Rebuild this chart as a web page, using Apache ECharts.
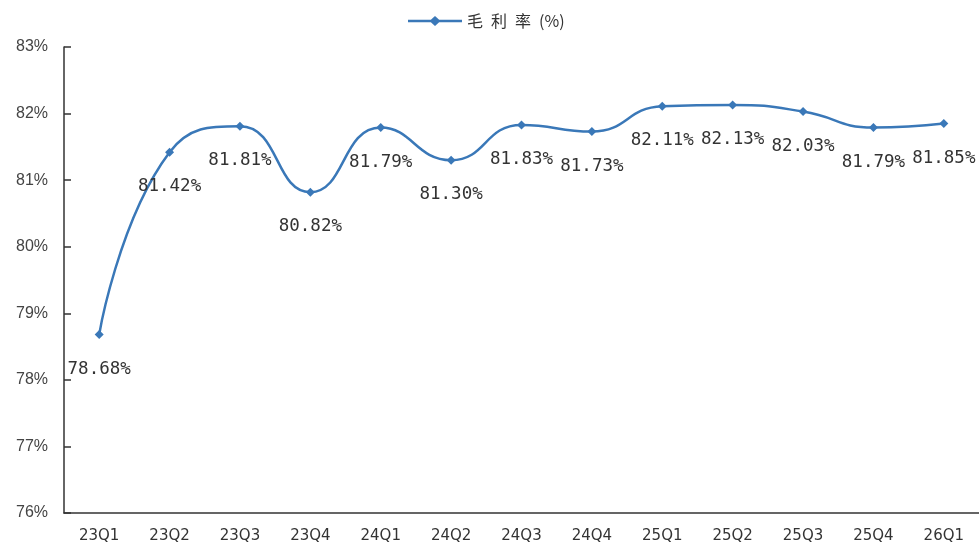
<!DOCTYPE html>
<html>
<head>
<meta charset="utf-8">
<script src="https://cdn.jsdelivr.net/npm/echarts@6/dist/echarts.min.js"></script>
<style>
  html, body { margin: 0; padding: 0; background: #fff; }
  #chart { width: 979px; height: 549px; }
</style>
</head>
<body>
<div id="chart"></div>
<script>
// Quarterly gross margin
const quarters = ['23Q1','23Q2','23Q3','23Q4','24Q1','24Q2','24Q3','24Q4','25Q1','25Q2','25Q3','25Q4','26Q1'];
const grossMargin = [78.68, 81.42, 81.81, 80.82, 81.79, 81.30, 81.83, 81.73, 82.11, 82.13, 82.03, 81.79, 81.85];
const seriesName = '毛利率（%）';

// widen CJK characters a little and use compact parentheses in the legend
const legendText = name => name
  .replace(/[（(]/g, '\u2002(').replace(/[）)]/g, ')')
  .replace(/([\u4e00-\u9fff])(?=[\u4e00-\u9fff])/g, '$1\u2002');

const chart = echarts.init(document.getElementById('chart'));
chart.setOption({
  animation: false,
  backgroundColor: '#fff',
  legend: {
    top: 8,
    left: 403,
    itemWidth: 54,
    itemHeight: 11,
    itemGap: 8,
    formatter: legendText,
    textStyle: { fontFamily: '"Noto Sans CJK SC", sans-serif', fontSize: 16, color: '#333' },
    data: [{ name: seriesName, icon: 'path://M0,4.2 L54,4.2 L54,6.8 L0,6.8 Z M21.5,5.5 L27,0.5 L32.5,5.5 L27,10.5 Z' }]
  },
  grid: { left: 64, right: -2, top: 47, bottom: 36, containLabel: false },
  xAxis: {
    type: 'category',
    data: quarters,
    boundaryGap: true,
    axisLine: { lineStyle: { color: '#333', width: 1.5 } },
    axisTick: { inside: true, length: 7, alignWithLabel: false, lineStyle: { color: '#333', width: 1.5 } },
    axisLabel: { margin: 16, fontFamily: '"DejaVu Sans", sans-serif', fontSize: 15, color: '#333' }
  },
  yAxis: {
    type: 'value',
    min: 76,
    max: 83,
    interval: 1,
    splitLine: { show: false },
    axisLine: { show: true, lineStyle: { color: '#333', width: 1.5 } },
    axisTick: { show: true, inside: true, length: 7, lineStyle: { color: '#333', width: 1.5 } },
    axisLabel: { margin: 16, formatter: '{value}%', fontFamily: '"Liberation Sans", Arial, sans-serif', fontSize: 16, color: '#444' }
  },
  series: [{
    name: seriesName,
    type: 'line',
    data: grossMargin,
    smooth: 0.5,
    symbol: 'diamond',
    symbolSize: 9,
    lineStyle: { color: '#3a78b8', width: 2.5 },
    itemStyle: { color: '#3a78b8' },
    label: {
      show: true,
      position: 'bottom',
      distance: 21,
      formatter: p => p.value.toFixed(2) + '%',
      fontFamily: '"DejaVu Sans Mono", monospace',
      fontSize: 17.5,
      color: '#333'
    }
  }]
});
</script>
</body>
</html>
